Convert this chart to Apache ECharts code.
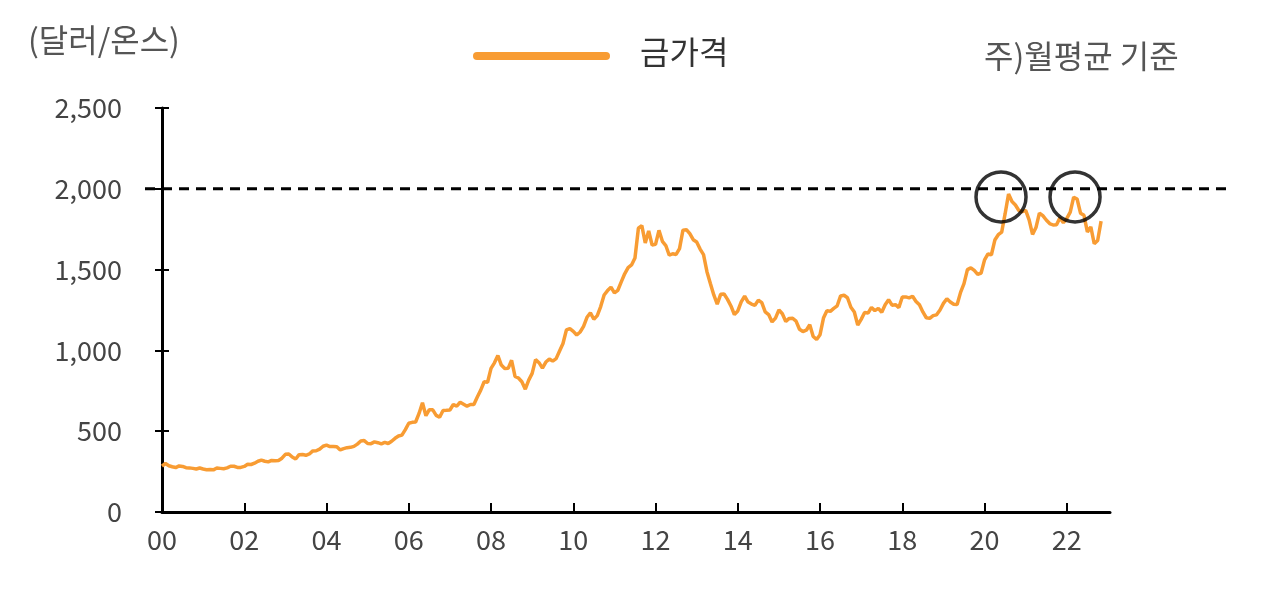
<!DOCTYPE html><html><head><meta charset="utf-8"><script src="https://cdn.jsdelivr.net/npm/echarts@6/dist/echarts.min.js"></script>
<style>html,body{margin:0;padding:0;background:#fff}#c{width:1266px;height:602px}</style></head><body><div id="c"></div><script>
const startYear = 2000;
const monthly = [
[284,300,286,280,275,285,282,274,273,270,266,272],
[266,262,263,261,272,270,268,273,283,283,276,276],
[282,296,294,302,314,321,314,310,319,317,319,333],
[357,359,340,328,355,356,351,359,378,379,389,407],
[414,405,406,404,384,392,398,400,406,420,439,442],
[424,423,434,429,422,431,424,438,456,470,476,510],
[549,555,557,610,676,596,633,632,598,586,628,629],
[631,665,655,679,667,655,665,665,712,754,806,803],
[889,923,968,909,888,889,939,839,829,806,760,816],
[858,943,924,890,928,946,934,949,996,1043,1127,1135],
[1118,1095,1114,1149,1205,1232,1193,1215,1271,1343,1370,1391],
[1356,1372,1424,1474,1512,1529,1572,1756,1772,1665,1739,1652],
[1656,1743,1675,1649,1589,1598,1594,1630,1744,1747,1722,1685],
[1671,1627,1593,1487,1414,1343,1286,1347,1349,1316,1275,1222],
[1244,1300,1336,1299,1287,1279,1311,1296,1239,1222,1176,1200],
[1251,1227,1179,1198,1199,1181,1131,1117,1125,1159,1086,1068],
[1097,1200,1246,1242,1260,1276,1337,1341,1326,1267,1238,1157],
[1192,1234,1231,1266,1246,1260,1236,1283,1314,1280,1283,1265],
[1331,1331,1325,1335,1303,1282,1238,1202,1198,1215,1220,1250],
[1291,1320,1300,1286,1284,1359,1413,1500,1511,1495,1471,1479],
[1560,1597,1592,1683,1716,1732,1846,1968,1921,1900,1866,1858],
[1867,1808,1718,1760,1850,1834,1807,1785,1776,1777,1821,1790],
[1817,1856,1948,1937,1849,1836,1733,1764,1660,1680,1800]
];
const highlightPoints = [[20.4,1950],[22.2,1950]];
const refLevel = 2000;
const data = [];
monthly.forEach((row,i)=>row.forEach((v,m)=>data.push([i+m/12,v])));
const ch = echarts.init(document.getElementById('c'));
const lab = {color:'#444',fontSize:27,fontFamily:'Noto Sans CJK KR'};
ch.setOption({
 animation:false,
 grid:{left:162,right:156,top:108,bottom:90},
 xAxis:{type:'value',min:0,max:23.05,interval:2,
  axisLine:{lineStyle:{color:'#000',width:3}},
  axisTick:{inside:true,length:9,lineStyle:{color:'#000',width:2}},
  splitLine:{show:false},
  axisLabel:Object.assign({margin:14,showMaxLabel:false,formatter:v=>String(v).padStart(2,'0')},lab)},
 yAxis:[{type:'value',min:0,max:2500,interval:500,
  axisLine:{show:true,lineStyle:{color:'#000',width:3}},
  axisTick:{show:true,length:7,lineStyle:{color:'#000',width:2}},
  splitLine:{show:false},
  axisLabel:Object.assign({margin:40,formatter:v=>v.toLocaleString('en-US')},lab)},
  {type:'value',min:0,max:2500,interval:500,position:'left',
  axisLine:{show:false},axisTick:{show:true,inside:true,length:7,lineStyle:{color:'#000',width:2}},
  axisLabel:{show:false},splitLine:{show:false}}],
 series:[
  {type:'line',data:data,showSymbol:false,lineStyle:{color:'#F89C33',width:3.5},z:3},
  {type:'scatter',data:highlightPoints,symbol:'circle',symbolSize:50,
   itemStyle:{color:'rgba(0,0,0,0)',borderColor:'#000',borderWidth:3.5},z:4}
 ]
});
const y2000 = ch.convertToPixel({gridIndex:0},[0,refLevel])[1];
ch.setOption({graphic:[
 {type:'line',shape:{x1:145,y1:y2000,x2:1230,y2:y2000},style:{stroke:'#000',lineWidth:3,lineDash:[10,7]},z:5},
 {type:'text',left:28,top:24,style:{text:'(달러/온스)',fill:'#555',font:'32px "Noto Sans CJK KR"'}},
 {type:'line',shape:{x1:477,y1:56,x2:606,y2:56},style:{stroke:'#F89C33',lineWidth:8,lineCap:'round'}},
 {type:'text',left:640,top:36,style:{text:'금가격',fill:'#333',font:'32px "Noto Sans CJK KR"'}},
 {type:'text',left:984,top:40,style:{text:'주)월평균 기준',fill:'#555',font:'32px "Noto Sans CJK KR"'}}
]});
</script></body></html>
